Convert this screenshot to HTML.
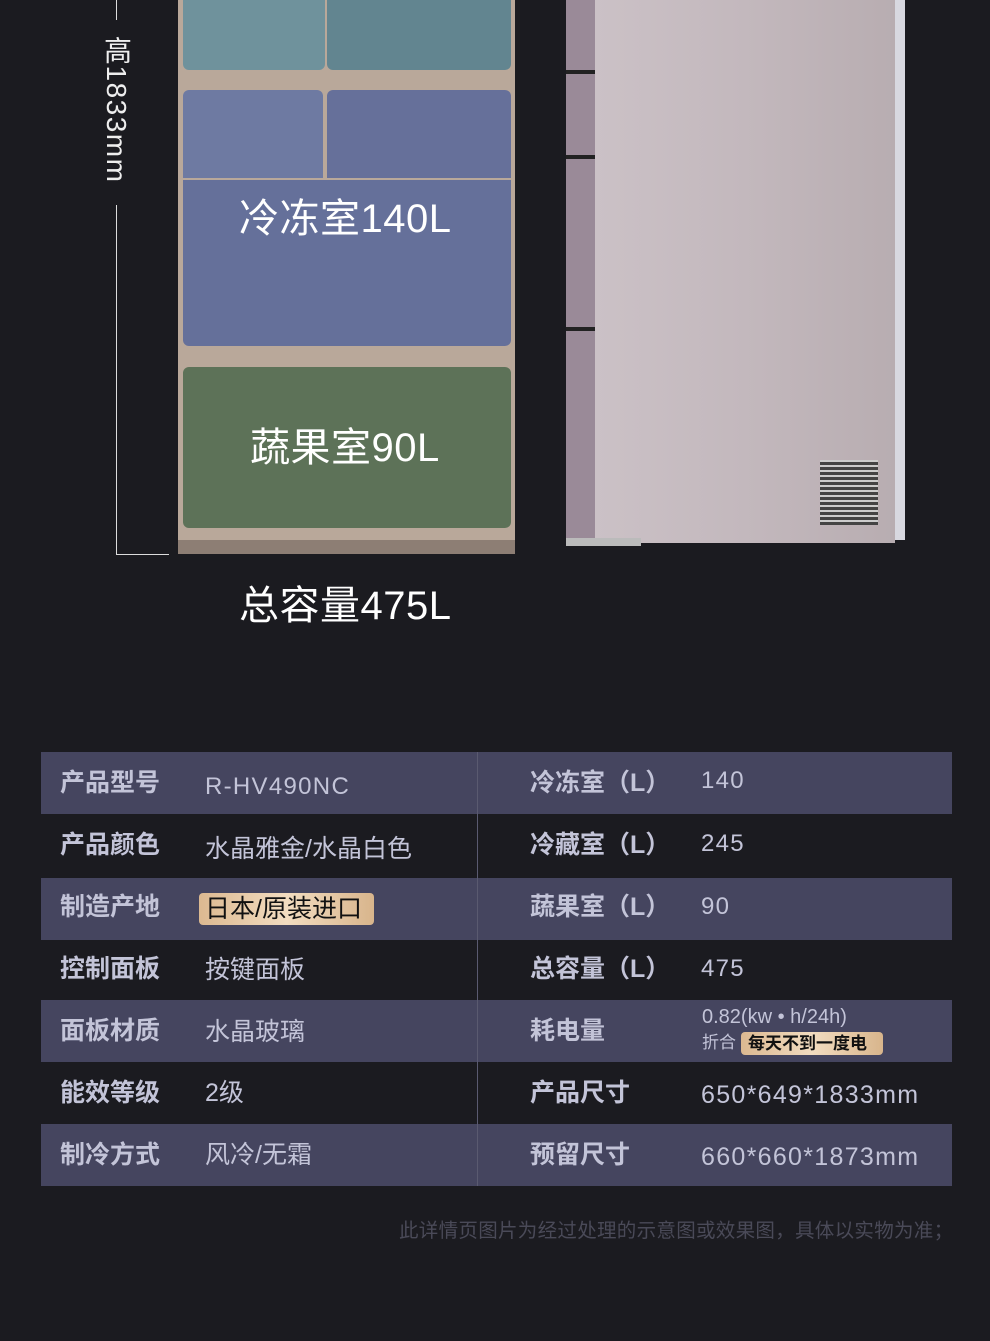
<!DOCTYPE html>
<html><head><meta charset="utf-8"><style>
body{margin:0;width:990px;height:1341px;background:#1b1b20;position:relative;overflow:hidden;font-family:"Liberation Sans","Noto Sans CJK SC",sans-serif;}
.a{position:absolute;}
.t{position:absolute;color:#fff;font-size:40px;white-space:nowrap;line-height:1;}
.row{position:absolute;left:41px;width:911px;height:62px;}
.l{background:#45455f;}
.k{position:absolute;font-size:25px;font-weight:bold;color:#c3c4d8;white-space:nowrap;line-height:1;}
.v{position:absolute;font-size:25px;color:#c3c4d8;white-space:nowrap;line-height:1;}
.n{letter-spacing:1.3px;font-size:24px;}
</style></head><body>
<div class="a" style="left:116px;top:0;width:1px;height:20px;background:#ddd"></div>
<div class="a" style="left:116px;top:205px;width:1px;height:350px;background:#ddd"></div>
<div class="a" style="left:116px;top:554px;width:53px;height:1px;background:#ddd"></div>
<div class="t" style="left:102px;top:36px;font-size:28px;writing-mode:vertical-rl;color:#eee;letter-spacing:1.5px">高1833mm</div>

<div class="a" style="left:178px;top:0;width:337px;height:548px;background:#b9a89a;border-radius:0 0 4px 4px"></div>
<div class="a" style="left:183px;top:0;width:142px;height:70px;background:#6f929c;border-radius:0 0 6px 6px"></div>
<div class="a" style="left:327px;top:0;width:184px;height:70px;background:#628590;border-radius:0 0 6px 6px"></div>
<div class="a" style="left:183px;top:90px;width:140px;height:88px;background:#6e7aa2;border-radius:6px 6px 0 0"></div>
<div class="a" style="left:327px;top:90px;width:184px;height:88px;background:#66709a;border-radius:6px 6px 0 0"></div>
<div class="a" style="left:183px;top:180px;width:328px;height:166px;background:#65709a;border-radius:0 0 6px 6px"></div>
<div class="a" style="left:183px;top:367px;width:328px;height:161px;background:#5d7258;border-radius:6px"></div>
<div class="a" style="left:178px;top:540px;width:337px;height:14px;background:#8d7e74"></div>
<div class="t" style="left:239px;top:199px;letter-spacing:0.5px">冷冻室140L</div>
<div class="t" style="left:250px;top:428px;letter-spacing:0.5px">蔬果室90L</div>
<div class="t" style="left:239px;top:586px;letter-spacing:0.5px">总容量475L</div>

<div class="a" style="left:566px;top:0;width:29px;height:543px;background:#9a8a98"></div>
<div class="a" style="left:566px;top:70px;width:29px;height:4px;background:#222"></div>
<div class="a" style="left:566px;top:155px;width:29px;height:4px;background:#222"></div>
<div class="a" style="left:566px;top:327px;width:29px;height:4px;background:#222"></div>
<div class="a" style="left:595px;top:0;width:300px;height:543px;background:linear-gradient(90deg,#cbc1c6,#c3b8bd 50%,#b8adb1)"></div>
<div class="a" style="left:895px;top:0;width:10px;height:540px;background:#d8d8e0"></div>
<div class="a" style="left:820px;top:460px;width:58px;height:65px;background:repeating-linear-gradient(0deg,#444 0 3px,#ccc 3px 5px)"></div>
<div class="a" style="left:566px;top:538px;width:75px;height:8px;background:#bbb"></div>

<div class="row l" style="top:752px"></div>
<div class="row" style="top:814px;height:64px"></div>
<div class="row l" style="top:878px"></div>
<div class="row" style="top:940px;height:60px"></div>
<div class="row l" style="top:1000px"></div>
<div class="row" style="top:1062px"></div>
<div class="row l" style="top:1124px"></div>
<div class="a" style="left:477px;top:752px;width:1px;height:434px;background:#5a5a70"></div>

<div class="k" style="left:60px;top:771px">产品型号</div><div class="v n" style="left:205px;top:775px">R-HV490NC</div>
<div class="k" style="left:60px;top:833px">产品颜色</div><div class="v" style="left:205px;top:837px">水晶雅金/水晶白色</div>
<div class="k" style="left:60px;top:895px">制造产地</div>
<div class="a" style="left:199px;top:893px;width:175px;height:32px;border-radius:4px;background:linear-gradient(90deg,#dcb991,#f2dcc0,#d8b58c)"></div>
<div class="v" style="left:205px;top:897px;color:#111">日本/原装进口</div>
<div class="k" style="left:60px;top:957px">控制面板</div><div class="v" style="left:205px;top:958px">按键面板</div>
<div class="k" style="left:60px;top:1019px">面板材质</div><div class="v" style="left:205px;top:1020px">水晶玻璃</div>
<div class="k" style="left:60px;top:1081px">能效等级</div><div class="v" style="left:205px;top:1081px">2级</div>
<div class="k" style="left:60px;top:1143px">制冷方式</div><div class="v" style="left:205px;top:1143px">风冷/无霜</div>

<div class="k" style="left:530px;top:771px">冷冻室（L）</div><div class="v n" style="left:701px;top:769px">140</div>
<div class="k" style="left:530px;top:833px">冷藏室（L）</div><div class="v n" style="left:701px;top:832px">245</div>
<div class="k" style="left:530px;top:895px">蔬果室（L）</div><div class="v n" style="left:701px;top:895px">90</div>
<div class="k" style="left:530px;top:957px">总容量（L）</div><div class="v n" style="left:701px;top:957px">475</div>
<div class="k" style="left:530px;top:1019px">耗电量</div>
<div class="v" style="left:702px;top:1007px;font-size:20px">0.82(kw • h/24h)</div>
<div class="v" style="left:702px;top:1034px;font-size:17px">折合</div>
<div class="a" style="left:741px;top:1032px;width:142px;height:23px;border-radius:4px;background:linear-gradient(90deg,#dcb991,#f2dcc0,#d8b58c)"></div>
<div class="v" style="left:748px;top:1035px;font-size:17px;font-weight:bold;color:#111">每天不到一度电</div>
<div class="k" style="left:530px;top:1081px">产品尺寸</div><div class="v n" style="left:701px;top:1083px;font-size:25px">650*649*1833mm</div>
<div class="k" style="left:530px;top:1143px">预留尺寸</div><div class="v n" style="left:701px;top:1145px;font-size:25px">660*660*1873mm</div>

<div class="v" style="left:399px;top:1222px;font-size:19.5px;color:#4a4a58;letter-spacing:0.3px">此详情页图片为经过处理的示意图或效果图，具体以实物为准；</div>
</body></html>
